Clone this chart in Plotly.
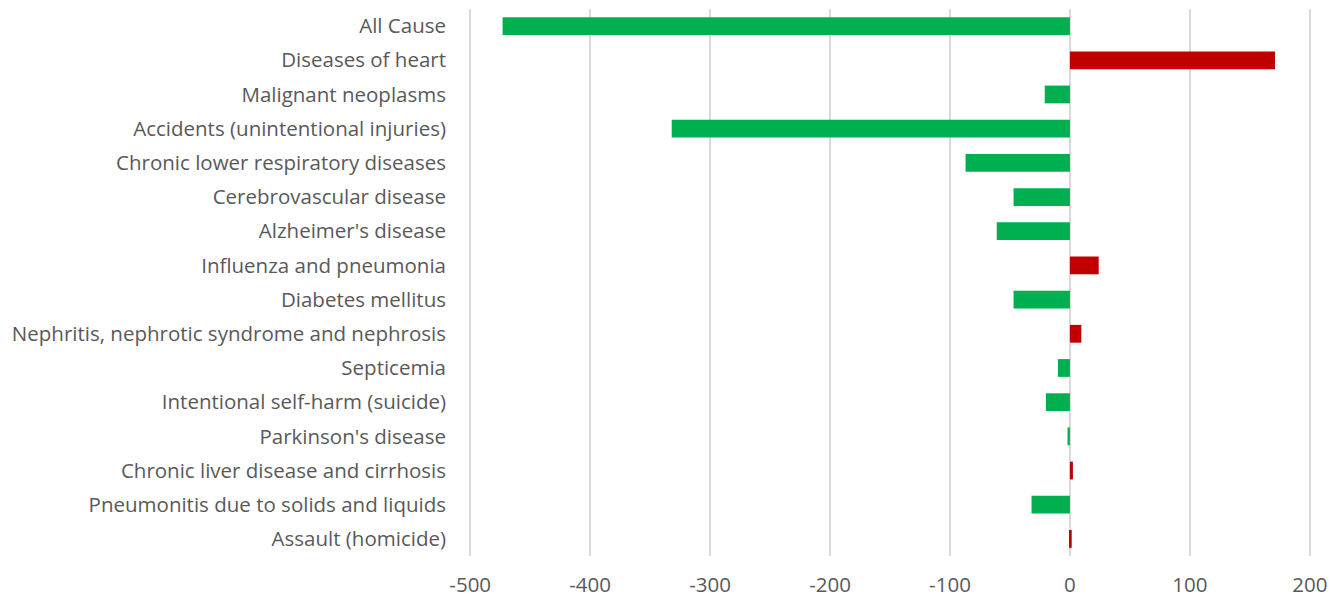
import plotly.graph_objects as go

# Change in death counts by cause (negative = decrease)
causes = [
    "All Cause",
    "Diseases of heart",
    "Malignant neoplasms",
    "Accidents (unintentional injuries)",
    "Chronic lower respiratory diseases",
    "Cerebrovascular disease",
    "Alzheimer's disease",
    "Influenza and pneumonia",
    "Diabetes mellitus",
    "Nephritis, nephrotic syndrome and nephrosis",
    "Septicemia",
    "Intentional self-harm (suicide)",
    "Parkinson's disease",
    "Chronic liver disease and cirrhosis",
    "Pneumonitis due to solids and liquids",
    "Assault (homicide)",
]
change = [-473, 171, -21, -332, -87, -47, -61, 24, -47, 9.5, -10, -20, -2, 2.5, -32, 1.5]

x_ticks = [-500, -400, -300, -200, -100, 0, 100, 200]

GREEN = "#00B050"
RED = "#C00000"
colors = [RED if v > 0 else GREEN for v in change]

fig = go.Figure(
    go.Bar(
        x=change,
        y=causes,
        orientation="h",
        marker=dict(color=colors, line=dict(width=0)),
        hoverinfo="x+y",
    )
)

font_family = "Open Sans, Noto Sans, sans-serif"

# range padded by one unit on each side so the outer gridlines stay visible
fig.update_layout(
    width=1344,
    height=598,
    margin=dict(l=469, r=33, t=9, b=42, autoexpand=False),
    paper_bgcolor="white",
    plot_bgcolor="white",
    bargap=0.48,
    showlegend=False,
    font=dict(family=font_family, size=20.5, color="#595959"),
    xaxis=dict(
        range=[-501, 201],
        tickvals=x_ticks,
        ticktext=[str(t) for t in x_ticks],
        showgrid=True,
        gridcolor="#D9D9D9",
        gridwidth=2,
        zeroline=True,
        zerolinecolor="#D9D9D9",
        zerolinewidth=2,
        showline=False,
        ticks="",
        ticklabelstandoff=14,
        automargin=False,
        tickfont=dict(size=20.5, color="#595959"),
        fixedrange=True,
    ),
    yaxis=dict(
        categoryorder="array",
        categoryarray=causes,
        autorange="reversed",
        showgrid=False,
        zeroline=False,
        showline=False,
        ticks="",
        ticklabelstandoff=22,
        automargin=False,
        tickfont=dict(size=20.5, color="#595959"),
        fixedrange=True,
    ),
)

fig.write_html("out.html")
